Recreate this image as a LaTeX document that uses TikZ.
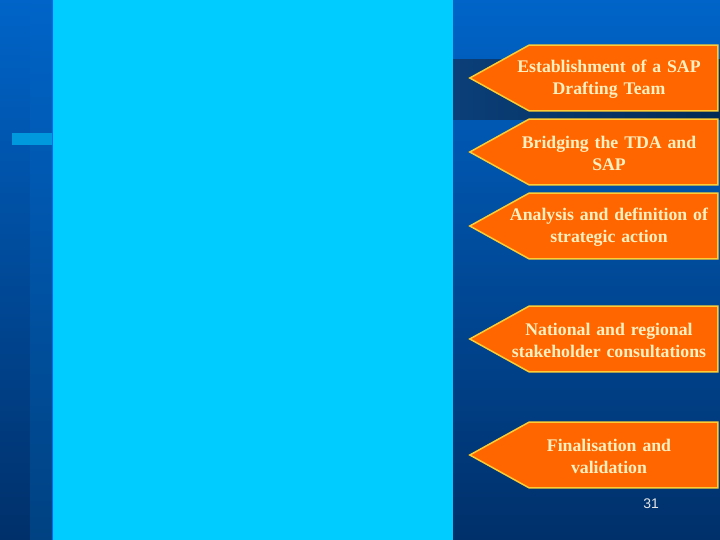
\documentclass[tikz,border=0pt]{standalone}
\usepackage{fontspec}
\setmainfont{Liberation Serif}
\newfontfamily\numfont{Liberation Sans}
\usetikzlibrary{shapes.symbols}
\definecolor{bgtop}{HTML}{0064C8}
\definecolor{bgbottom}{HTML}{00306A}
\definecolor{striptop}{HTML}{0064C8}
\definecolor{stripbottom}{HTML}{004282}
\definecolor{panelcyan}{HTML}{00CCFF}
\definecolor{barblue}{HTML}{0099DD}
\definecolor{bandleft}{HTML}{0B3F78}
\definecolor{bandright}{HTML}{022A55}
\definecolor{signorange}{HTML}{FF6600}
\definecolor{signgold}{HTML}{FFCC33}
\definecolor{signtext}{HTML}{FFF0C0}
\tikzset{
    signbox/.style ={
        shape=signal,
        signal to=west,
        signal pointer angle=58,
        draw=signgold,
        fill=signorange,
        line width=1.5pt,
        inner sep=0pt,
        minimum width=249,
        minimum height=66
    },
    signlabel/.style ={
        text=signtext,
        text width=210,
        align=center,
        font=\bfseries\fontsize{17.8}{22}\selectfont
    },
    pagenum/.style ={
        text=white!90!black,
        font=\numfont\fontsize{14}{16}\selectfont
    }
}
\begin{document}
\begin{tikzpicture}[x=1bp,y=-1bp]
        \useasboundingbox (0,0) rectangle (720,540);
        \shade[top color=bgtop,bottom color=bgbottom] (0,0) rectangle (720,540);
        \shade[top color=striptop,bottom color=stripbottom] (30,0) rectangle (52,540);
        \fill[barblue] (12,133) rectangle (52,145);
        \fill[panelcyan] (52,0) rectangle (453,540);
        \draw[blue!60!cyan,line width=1] (52.5,0) -- (52.5,540);
        \shade[left color=bandleft,right color=bandright] (453,60) rectangle (720,120);
        \node[signbox] (s1) at (623.5,78) {};
        \node[signbox] (s2) at (623.5,152) {};
        \node[signbox] (s3) at (623.5,226) {};
        \node[signbox] (s4) at (623.5,339) {};
        \node[signbox] (s5) at (623.5,455) {};
        \node[signlabel] (t1) at (609,79) {Establishment of a SAP\\Drafting Team};
        \node[signlabel] (t2) at (609,153) {Bridging the TDA and\\SAP};
        \node[signlabel] (t3) at (609,227) {Analysis and definition of\\strategic action};
        \node[signlabel] (t4) at (609,340) {National and regional\\stakeholder consultations};
        \node[signlabel] (t5) at (609,456) {Finalisation and\\validation};
        \node[pagenum] (num) at (651,504) {31};
    \end{tikzpicture}
\end{document}
